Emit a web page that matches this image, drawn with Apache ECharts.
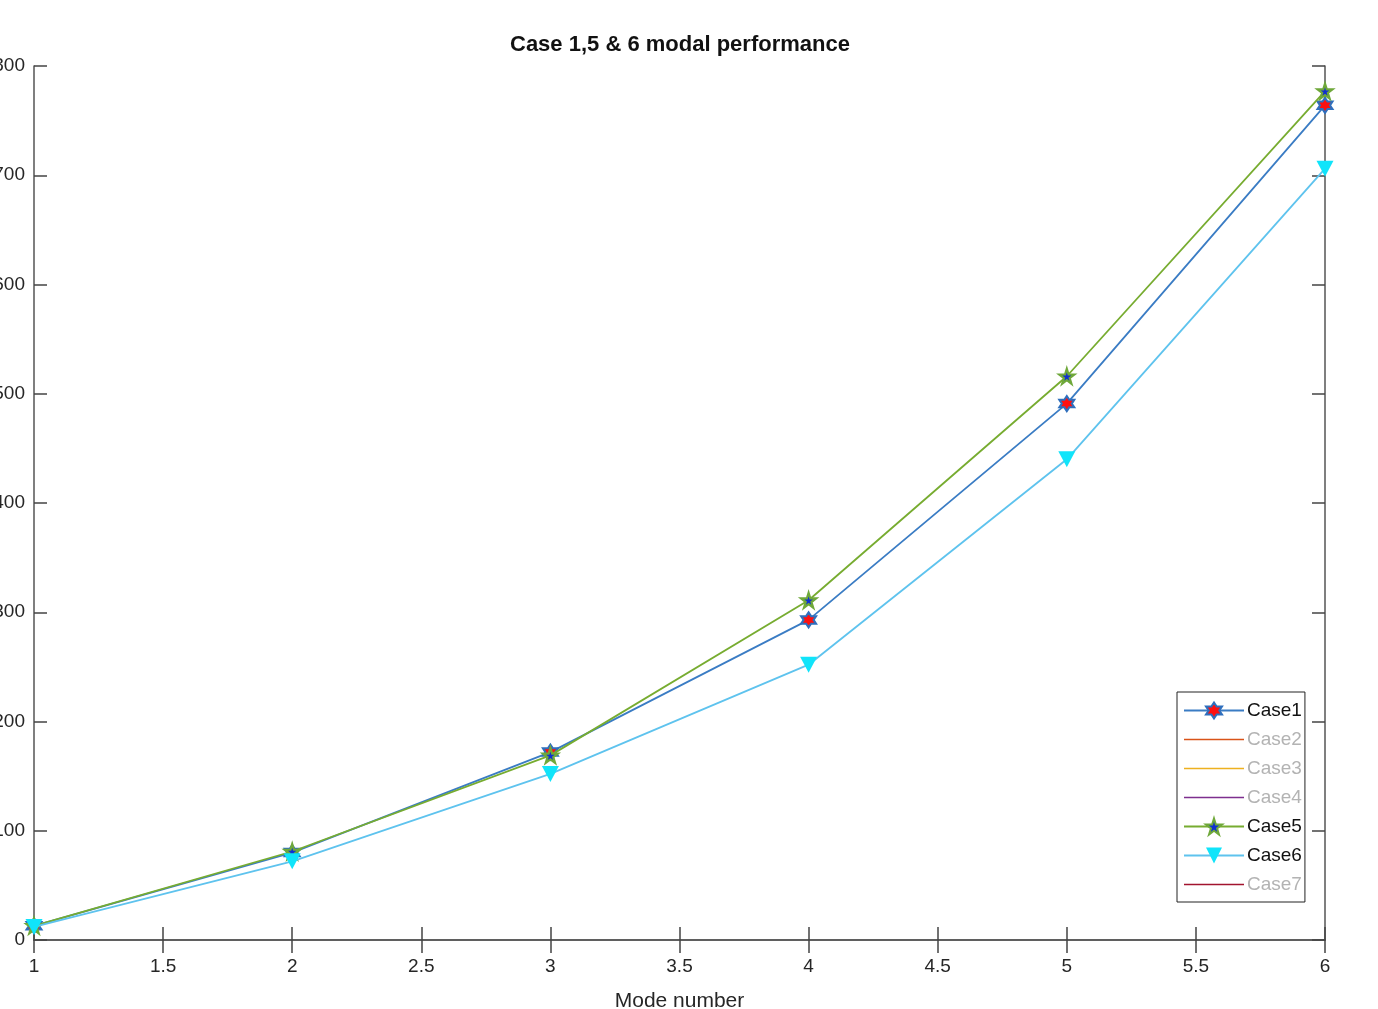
<!DOCTYPE html>
<html>
<head>
<meta charset="utf-8">
<script src="https://cdn.jsdelivr.net/npm/echarts@6/dist/echarts.min.js"></script>
<style>html,body{margin:0;padding:0;background:#fff;}#c{width:1378px;height:1009px;}</style>
</head>
<body>
<div id="c"></div>
<script>
const modes = [1, 2, 3, 4, 5, 6];
const case1 = [13, 80, 172, 293, 491, 764];
const case5 = [13, 81, 169, 311, 516, 777];
const case6 = [12, 72, 152, 252, 440, 706];
const legendNames = ['Case1', 'Case2', 'Case3', 'Case4', 'Case5', 'Case6', 'Case7'];
const activeNames = ['Case1', 'Case5', 'Case6'];

const hexagram = 'path://M10,0 L12.887,5 L18.66,5 L15.77,10 L18.66,15 L12.887,15 L10,20 L7.113,15 L1.34,15 L4.23,10 L1.34,5 L7.113,5 Z';
const pentagram = 'path://M10,0 L12.245,6.91 L19.51,6.91 L13.63,11.18 L15.878,18.09 L10,13.82 L4.122,18.09 L6.37,11.18 L0.49,6.91 L7.755,6.91 Z';
const lineIcon = 'path://M0,0 L60,0 L60,1.6 L0,1.6 Z';
const FONT = '"Liberation Sans", Arial, sans-serif';

function pairs(vals) { return modes.map((m, i) => [m, vals[i]]); }

const chart = echarts.init(document.getElementById('c'));
const axisLine = { show: true, lineStyle: { color: '#555', width: 1.5 } };
const tick = { show: true, inside: true, length: 13, lineStyle: { color: '#444', width: 1.5 } };
const label = { color: '#262626', fontSize: 19, fontFamily: FONT };

chart.setOption({
  animation: false,
  backgroundColor: '#fff',
  title: {
    text: 'Case 1,5 & 6 modal performance',
    left: 505, top: 29,
    textStyle: { fontSize: 22, fontWeight: 'bold', color: '#111', fontFamily: FONT }
  },
  grid: { left: 34, right: 53, top: 66, bottom: 69, containLabel: false, outerBoundsMode: 'none' },
  legend: {
    orient: 'vertical',
    left: 1177, top: 692,
    backgroundColor: '#fff',
    borderColor: '#222', borderWidth: 1,
    padding: [9, 3, 8, 6],
    itemWidth: 60, itemHeight: 20, itemGap: 10,
    textStyle: { fontSize: 19, color: '#111', fontFamily: FONT, padding: [0, 0, 0, -2] },
    data: legendNames.map(n => activeNames.includes(n) ? { name: n } : { name: n, icon: lineIcon, textStyle: { color: '#b3b3b3' } })
  },
  xAxis: [
    { type: 'value', min: 1, max: 6, interval: 0.5, position: 'bottom',
      axisLine, axisTick: tick, splitLine: { show: false },
      axisLabel: Object.assign({ margin: 17 }, label),
      name: 'Mode number', nameLocation: 'middle', nameGap: 51,
      nameTextStyle: { fontSize: 21, color: '#262626', fontFamily: FONT } },
    { type: 'value', min: 1, max: 6, interval: 0.5, position: 'top',
      axisLine, axisTick: tick, splitLine: { show: false }, axisLabel: { show: false } }
  ],
  yAxis: [
    { type: 'value', min: 0, max: 800, interval: 100, position: 'left',
      axisLine, axisTick: tick, splitLine: { show: false },
      axisLabel: Object.assign({ margin: 9 }, label) },
    { type: 'value', min: 0, max: 800, interval: 100, position: 'right',
      axisLine, axisTick: tick, splitLine: { show: false }, axisLabel: { show: false } }
  ],
  series: [
    { name: 'Case1', type: 'line', data: pairs(case1),
      lineStyle: { color: '#3a7cc4', width: 1.8 },
      itemStyle: { color: '#ff1010', borderColor: '#2f6fbd', borderWidth: 2 },
      symbol: hexagram, symbolSize: 15, z: 3 },
    { name: 'Case2', type: 'line', data: [], lineStyle: { color: '#D95319', width: 1.5 }, itemStyle: { color: '#D95319' }, symbol: 'none' },
    { name: 'Case3', type: 'line', data: [], lineStyle: { color: '#EDB120', width: 1.5 }, itemStyle: { color: '#EDB120' }, symbol: 'none' },
    { name: 'Case4', type: 'line', data: [], lineStyle: { color: '#7E2F8E', width: 1.5 }, itemStyle: { color: '#7E2F8E' }, symbol: 'none' },
    { name: 'Case5', type: 'line', data: pairs(case5),
      lineStyle: { color: '#77AC30', width: 1.8 },
      itemStyle: { color: '#1030d0', borderColor: '#6fa83a', borderWidth: 2.2 },
      symbol: pentagram, symbolSize: 15, z: 4 },
    { name: 'Case6', type: 'line', data: pairs(case6),
      lineStyle: { color: '#5ec3ee', width: 1.8 },
      itemStyle: { color: '#10e4fa', borderColor: '#10e4fa', borderWidth: 0 },
      symbol: 'triangle', symbolRotate: 180, symbolSize: [17, 16], z: 5 },
    { name: 'Case7', type: 'line', data: [], lineStyle: { color: '#A2142F', width: 1.5 }, itemStyle: { color: '#A2142F' }, symbol: 'none' }
  ]
});
</script>
</body>
</html>
